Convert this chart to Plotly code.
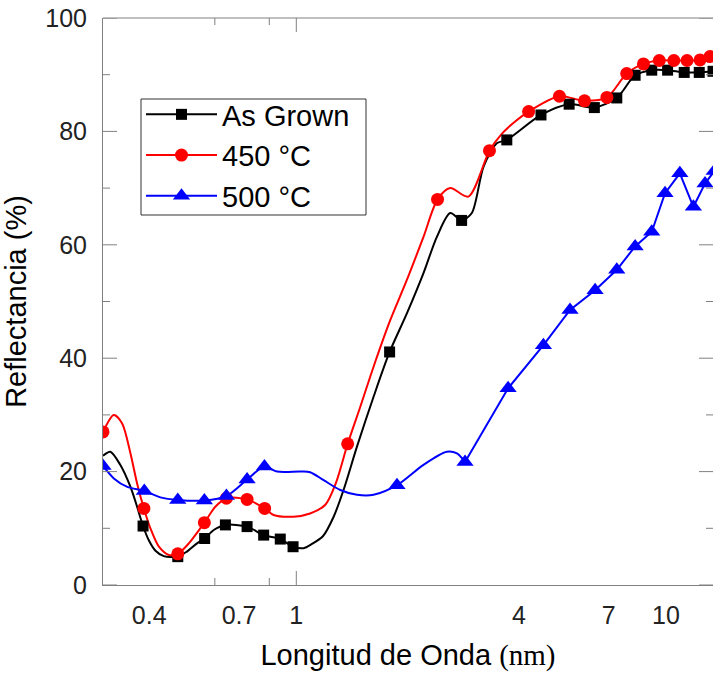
import math
import plotly.graph_objects as go

# ---------------- data ----------------
tick_vals = [0.4, 0.7, 1, 4, 7, 10]
tick_text = ["0.4", "0.7", "1", "4", "7", "10"]
major_x = [1, 10]
y_ticks = [0, 20, 40, 60, 80, 100]

# As Grown: smooth curve and its markers
ag_curve_x = [0.300, 0.314, 0.334, 0.356, 0.371, 0.385, 0.399, 0.416, 0.438, 0.478, 0.506,
              0.539, 0.565, 0.598, 0.643, 0.736, 0.816, 0.905, 0.980, 1.047, 1.10, 1.18,
              1.261, 1.342, 1.459, 1.618, 1.788, 1.991, 2.208, 2.40, 2.608, 2.80, 2.984,
              3.21, 3.485, 3.71, 4.59, 5.47, 6.40, 7.36, 8.25, 9.15, 10.1, 11.2, 12.3, 13.4]
ag_curve_y = [22.8, 23.5, 21.2, 17.3, 13.8, 10.4, 7.9, 6.05, 5.1, 5.0, 5.9,
              7.35, 8.2, 9.7, 10.6, 10.3, 8.8, 8.1, 6.75, 6.5, 7.2, 8.6,
              12.0, 16.75, 24.4, 33.2, 41.1, 47.9, 55.0, 61.4, 65.6, 64.3, 65.6,
              73.8, 77.9, 78.5, 82.9, 84.8, 84.2, 85.9, 89.9, 90.8, 90.8, 90.4, 90.4, 90.6]
ag_mark_x = [0.385, 0.478, 0.565, 0.643, 0.736, 0.816, 0.905, 0.980, 1.788, 2.80,
             3.71, 4.59, 5.47, 6.40, 7.36, 8.25, 9.15, 10.1, 11.2, 12.3, 13.4]
ag_mark_y = [10.4, 5.0, 8.2, 10.6, 10.3, 8.8, 8.1, 6.75, 41.1, 64.3,
             78.5, 82.9, 84.8, 84.2, 85.9, 89.9, 90.8, 90.8, 90.4, 90.4, 90.6]

# 450 °C
t450_curve_x = [0.300, 0.321, 0.338, 0.356, 0.371, 0.387, 0.403, 0.425, 0.452, 0.478, 0.512,
                0.564, 0.604, 0.647, 0.736, 0.821, 0.868, 0.983, 1.09, 1.20, 1.28, 1.377,
                1.489, 1.618, 1.795, 1.991, 2.208, 2.41, 2.608, 2.92, 3.33, 3.60, 3.85,
                4.25, 5.15, 6.02, 6.92, 7.83, 8.69, 9.59, 10.5, 11.4, 12.36, 13.15]
t450_curve_y = [27.0, 30.0, 28.5, 23.2, 17.9, 13.5, 10.0, 6.75, 5.3, 5.5, 7.35,
                11.0, 13.8, 15.3, 15.1, 13.5, 12.35, 12.05, 12.6, 14.2, 18.0, 24.9,
                31.4, 38.5, 46.7, 53.8, 61.4, 68.0, 70.0, 68.5, 76.6, 79.6, 81.4,
                83.5, 86.2, 85.4, 86.0, 90.2, 91.9, 92.5, 92.5, 92.5, 92.6, 93.2]
t450_mark_x = [0.300, 0.387, 0.478, 0.564, 0.647, 0.736, 0.821, 1.377, 2.41, 3.33,
               4.25, 5.15, 6.02, 6.92, 7.83, 8.69, 9.59, 10.5, 11.4, 12.36, 13.15]
t450_mark_y = [27.0, 13.5, 5.5, 11.0, 15.3, 15.1, 13.5, 24.9, 68.0, 76.6,
               83.5, 86.2, 85.4, 86.0, 90.2, 91.9, 92.5, 92.5, 92.5, 92.6, 93.2]

# 500 °C
t500_curve_x = [0.300, 0.321, 0.349, 0.388, 0.429, 0.478, 0.564, 0.647, 0.736, 0.820,
                0.887, 1.025, 1.09, 1.185, 1.315, 1.459, 1.618, 1.872, 2.208, 2.554,
                2.72, 2.86]
t500_curve_y = [21.0, 18.8, 17.3, 16.6, 15.45, 15.0, 14.9, 15.7, 18.6, 20.9,
                20.0, 20.0, 19.9, 18.5, 16.75, 15.9, 15.9, 17.6, 21.2, 23.5,
                23.2, 21.7]
t500_mark_x = [0.300, 0.388, 0.478, 0.564, 0.647, 0.736, 0.820, 1.872, 2.86, 3.74,
               4.66, 5.50, 6.43, 7.36, 8.25, 9.15, 9.94, 10.9, 11.86, 12.75, 13.5]
t500_mark_y = [21.0, 16.6, 15.0, 14.9, 15.7, 18.6, 20.9, 17.6, 21.7, 34.7,
               42.3, 48.5, 52.0, 55.6, 59.7, 62.3, 69.1, 72.6, 66.7, 70.8, 73.0]

names = ["As Grown", "450 °C", "500 °C"]
colors = ["#000000", "#ff0000", "#0000ff"]
symbols = ["square", "circle", "triangle-up"]
msizes = [11, 13, 15]

x_range = [math.log10(0.3), math.log10(13.4)]

fig = go.Figure()

curves = [(ag_curve_x, ag_curve_y), (t450_curve_x, t450_curve_y), (t500_curve_x, t500_curve_y)]
marks = [(ag_mark_x, ag_mark_y), (t450_mark_x, t450_mark_y), (t500_mark_x, t500_mark_y)]

for i in range(3):
    cx, cy = curves[i]
    fig.add_trace(go.Scatter(x=cx, y=cy, mode="lines", showlegend=False,
                             line=dict(color=colors[i], width=2, shape="spline", smoothing=0.8),
                             hoverinfo="skip"))
# blue straight segments from 2.86 on
bx = [x for x in t500_mark_x if x >= 2.86]
by = [y for x, y in zip(t500_mark_x, t500_mark_y) if x >= 2.86]
fig.add_trace(go.Scatter(x=bx, y=by, mode="lines", showlegend=False,
                         line=dict(color=colors[2], width=2)))

for i in range(3):
    mx, my = marks[i]
    fig.add_trace(go.Scatter(x=mx, y=my, mode="markers", showlegend=False,
                             marker=dict(color=colors[i], symbol=symbols[i], size=msizes[i],
                                         line=dict(width=0))))
# legend entries
for i in range(3):
    fig.add_trace(go.Scatter(x=[None], y=[None], mode="lines+markers", name=names[i],
                             line=dict(color=colors[i], width=2),
                             marker=dict(color=colors[i], symbol=symbols[i], size=msizes[i],
                                         line=dict(width=0))))

axis_col = "#808080"
tick_font = dict(family="Liberation Sans, Arial, sans-serif", size=25, color="#222222")

# ---- frame and inward ticks (axis decoration) ----
shapes = [dict(type="rect", xref="paper", yref="paper",
               x0=(141 - 103) / 610, x1=(366 - 103) / 610,
               y0=(585 - 215) / 567, y1=(585 - 99) / 567,
               line=dict(color="#333333", width=1), fillcolor="white", layer="below"),
          dict(type="line", xref="paper", yref="paper", x0=0, x1=1, y0=1, y1=1,
               line=dict(color=axis_col, width=1))]
tick_line = dict(color=axis_col, width=1)
for v in tick_vals:
    L = 14 if v in major_x else 7
    for anchor, sgn in [(0, 1), (1, -1)]:
        shapes.append(dict(type="line", xref="x", yref="paper", ysizemode="pixel", yanchor=anchor,
                           x0=math.log10(v), x1=math.log10(v), y0=0, y1=sgn * L, line=tick_line))
y_minor = [(a + b) / 2 for a, b in zip(y_ticks[:-1], y_ticks[1:])]
for v, L in [(t, 14) for t in y_ticks] + [(t, 7) for t in y_minor]:
    for anchor, sgn in [(0, 1), (1, -1)]:
        shapes.append(dict(type="line", xref="paper", yref="y", xsizemode="pixel", xanchor=anchor,
                           x0=0, x1=sgn * L, y0=v, y1=v, line=tick_line))

fig.update_layout(
    width=713, height=676,
    margin=dict(l=103, r=0, t=18, b=91),
    paper_bgcolor="white", plot_bgcolor="white",
    font=dict(family="Liberation Sans, Arial, sans-serif", color="#000000"),
    xaxis=dict(type="log", range=x_range, tickvals=tick_vals, ticktext=tick_text,
               ticks="", showline=True, linecolor=axis_col, linewidth=1,
               showgrid=False, zeroline=False,
               tickfont=tick_font, ticklabelstandoff=8,
               title=dict(text='Longitud de Onda <span style="font-family:\'Liberation Serif\', \'Times New Roman\', serif">(nm)</span>',
                          font=dict(size=29, color="#000000"), standoff=16)),
    yaxis=dict(range=[0, 100], tickvals=y_ticks, ticks="",
               showline=True, linecolor=axis_col, linewidth=1,
               showgrid=False, zeroline=False,
               tickfont=tick_font, ticklabelstandoff=10,
               title=dict(text="Reflectancia (%)", font=dict(size=29, color="#000000"), standoff=12)),
    legend=dict(x=(141 - 103) / 610, y=(585 - 89) / 567, xanchor="left", yanchor="top",
                bgcolor="rgba(0,0,0,0)", borderwidth=0,
                font=dict(size=29, color="#000000"), itemwidth=71,
                tracegroupgap=0),
    shapes=shapes,
)

fig.write_html("out.html")
